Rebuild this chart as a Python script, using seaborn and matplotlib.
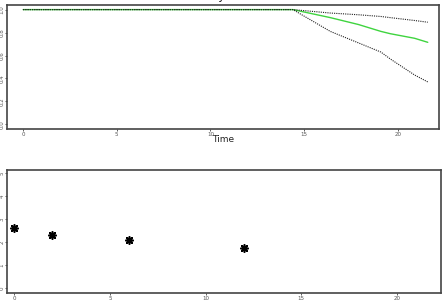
import matplotlib
matplotlib.use("Agg")
import matplotlib.pyplot as plt
import seaborn as sns
import pandas as pd

# Top panel: survival curve with confidence band
time = [0, 14.4, 16.4, 17.9, 19.1, 19.6, 20.9, 21.6]
surv = [1.0, 1.0, 0.93, 0.87, 0.81, 0.79, 0.75, 0.715]
upper = [1.0, 1.0, 0.97, 0.955, 0.94, 0.93, 0.905, 0.89]
lower = [1.0, 1.0, 0.81, 0.71, 0.63, 0.57, 0.43, 0.37]

# Bottom panel: points
pt_x = [0, 2, 6, 12]
pt_y = [2.6, 2.3, 2.1, 1.75]

x_ticks = [0, 5, 10, 15, 20]
top_yticks = [0.0, 0.2, 0.4, 0.6, 0.8, 1.0]
bot_yticks = [0, 1, 2, 3, 4, 5]

sns.set_theme(style="ticks")
plt.rcParams['font.family'] = ['DejaVu Sans']

fig = plt.figure(figsize=(4.45, 3.01), dpi=100)
W, H = 445, 301

def ax_at(l, t, r, b):
    return fig.add_axes([l / W, 1 - b / H, (r - l) / W, (b - t) / H])

ax1 = ax_at(7, 5, 439, 129)
ax2 = ax_at(7, 170, 441, 293)

df = pd.DataFrame({"time": time, "surv": surv, "upper": upper, "lower": lower})
sns.lineplot(data=df, x="time", y="surv", ax=ax1, color="#3fd43f", lw=1.0)
sns.lineplot(data=df, x="time", y="upper", ax=ax1, color="#222222", lw=0.8, linestyle=(0, (1, 1)))
sns.lineplot(data=df, x="time", y="lower", ax=ax1, color="#222222", lw=0.8, linestyle=(0, (1, 1)))
ax1.set_xlim(-0.86, 22.2)
ax1.set_ylim(-0.04, 1.04)
ax1.set_xticks(x_ticks)
ax1.set_yticks(top_yticks)
ax1.set_yticklabels([f"{v:.1f}" for v in top_yticks], rotation=90, va="center")
ax1.set_xlabel("Time", fontsize=6.5, labelpad=-1.5, color="#222222")
ax1.set_ylabel("")

dfp = pd.DataFrame({"x": pt_x, "y": pt_y})
sns.scatterplot(data=dfp, x="x", y="y", ax=ax2, marker=(8, 2, 0), s=28,
                color="black", edgecolor="black", linewidth=1.2)
ax2.set_xlim(-0.37, 22.3)
ax2.set_ylim(-0.2, 5.13)
ax2.set_xticks(x_ticks)
ax2.set_yticks(bot_yticks)
ax2.set_yticklabels([str(v) for v in bot_yticks], rotation=90, va="center")
ax2.set_xlabel("")
ax2.set_ylabel("")

for ax in (ax1, ax2):
    for s in ax.spines.values():
        s.set_visible(True)
        s.set_color("#444444")
        s.set_linewidth(1.2)
    ax.tick_params(axis="both", labelsize=4, length=1.5, width=0.6, pad=0.5,
                   colors="#444444", labelcolor="#555555")

fig.text(226 / W, 1.0, "Probability", ha="right", va="baseline", fontsize=8, color="#111111")

fig.savefig("out.png", dpi=100)
